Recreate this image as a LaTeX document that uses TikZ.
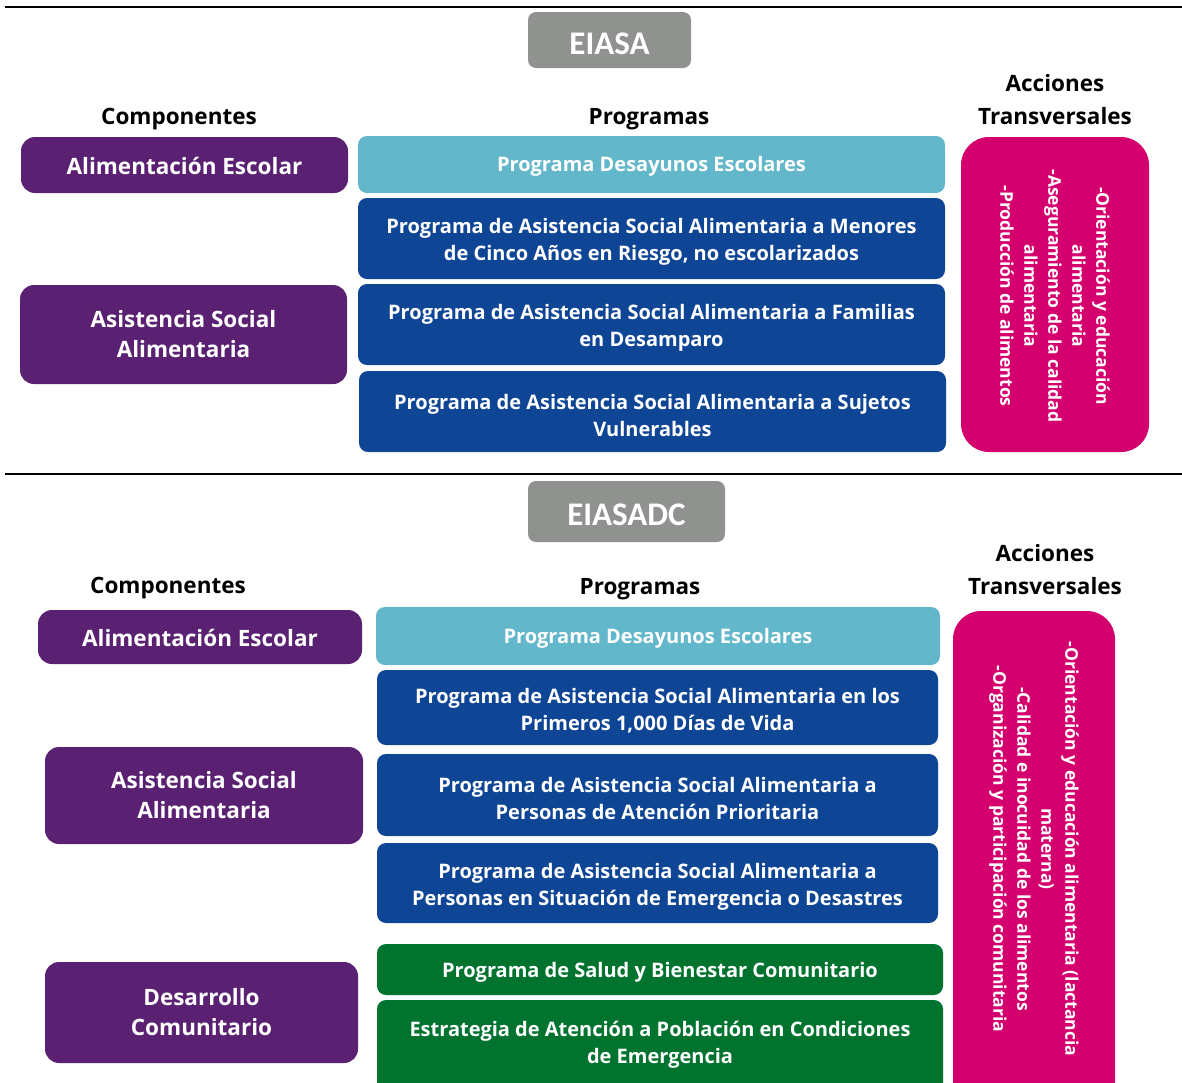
\documentclass[tikz,border=0pt]{standalone}
\usepackage{fontspec}
\setmainfont{Open Sans}
\newfontfamily\calib{Carlito}
\definecolor{gristit}{HTML}{8F928F}
\definecolor{morado}{HTML}{5A2172}
\definecolor{celeste}{HTML}{62B7CB}
\definecolor{azulosc}{HTML}{0E4595}
\definecolor{rosa}{HTML}{D3006E}
\definecolor{verde}{HTML}{00732F}
% box node (name, x1,y1,x2,y2, style, text-shift-down, text)
\newcommand{\bx}[8]{\node[#6, minimum width={#4-#2}, minimum height={#5-#3}] (#1) at ({(#2+#4)/2},{(#3+#5)/2}) {};
  \node[#6, fill=none, draw=none] (#1-t) at ({(#2+#4)/2},{(#3+#5)/2+#7}) {#8};}
\begin{document}
\begin{tikzpicture}[x=1pt,y=-1pt,
  basebox/.style={inner sep=0pt, text=white, font=\bfseries, align=center},
  titbox/.style={basebox, fill=gristit, rounded corners=8pt, font=\calib\bfseries\fontsize{33}{36}\selectfont},
  compbox/.style={basebox, fill=morado, rounded corners=14pt, font=\bfseries\fontsize{22.5}{30}\selectfont},
  progfont/.style={font=\bfseries\fontsize{20}{27}\selectfont},
  progcel/.style={basebox, fill=celeste, rounded corners=9pt, progfont},
  progaz/.style={basebox, fill=azulosc, rounded corners=9pt, progfont},
  progver/.style={basebox, fill=verde, rounded corners=9pt, progfont},
  accbox/.style={basebox, fill=rosa, rounded corners=28pt},
  vtext/.style={text=white, font=\bfseries\fontsize{17.5}{24}\selectfont, align=center, rotate=-90, inner sep=0pt},
  head/.style={font=\bfseries\fontsize{22.5}{33}\selectfont, align=center, inner sep=0pt},
  sepline/.style={line width=2pt}]
\useasboundingbox (0,0) rectangle (1182,1082);
\clip (0,0) rectangle (1182,1082);
% separators
\coordinate (l1a) at (5,7); \coordinate (l1b) at (1182,7);
\coordinate (l2a) at (5,474); \coordinate (l2b) at (1182,474);
\draw[sepline] (l1a) -- (l1b);
\draw[sepline] (l2a) -- (l2b);
% ---------- EIASA ----------
\bx{t1}{528}{12}{691}{68}{titbox}{4}{EIASA}
\node[head] (c1) at (179,119) {Componentes};
\node[head] (p1) at (649,119) {Programas};
\node[head] (a1) at (1055,100) {Acciones\\Transversales};
\bx{ae1}{21}{137}{348}{193}{compbox}{1}{Alimentación Escolar}
\bx{as1}{20}{285}{347}{384}{compbox}{0}{Asistencia Social\\Alimentaria}
\bx{pd1}{358}{136}{945}{193}{progcel}{2}{Programa Desayunos Escolares}
\bx{pm1}{358}{198}{945}{279}{progaz}{3.5}{Programa de Asistencia Social Alimentaria a Menores\\de Cinco Años en Riesgo, no escolarizados}
\bx{pf1}{358}{284}{945}{365}{progaz}{3.5}{Programa de Asistencia Social Alimentaria a Familias\\en Desamparo}
\bx{ps1}{359}{371}{946}{452}{progaz}{3.5}{Programa de Asistencia Social Alimentaria a Sujetos\\Vulnerables}
\bx{ac1}{961}{137}{1149}{452}{accbox}{0}{}
\node[vtext] (v1) at (1055,296) {-Orientación y educación\\alimentaria\\-Aseguramiento de la calidad\\alimentaria\\-Producción de alimentos};
% ---------- EIASADC ----------
\bx{t2}{528}{481}{725}{542}{titbox}{3}{EIASADC}
\node[head] (c2) at (168,588) {Componentes};
\node[head] (p2) at (640,589) {Programas};
\node[head] (a2) at (1045,570) {Acciones\\Transversales};
\bx{ae2}{38}{610}{362}{664}{compbox}{1}{Alimentación Escolar}
\bx{as2}{45}{747}{363}{844}{compbox}{0}{Asistencia Social\\Alimentaria}
\bx{dc2}{45}{962}{358}{1063}{compbox}{0}{Desarrollo\\Comunitario}
\bx{pd2}{376}{607}{940}{665}{progcel}{2}{Programa Desayunos Escolares}
\bx{pp2}{377}{670}{938}{745}{progaz}{3.5}{Programa de Asistencia Social Alimentaria en los\\Primeros 1,000 Días de Vida}
\bx{pa2}{377}{754}{938}{836}{progaz}{3.5}{Programa de Asistencia Social Alimentaria a\\Personas de Atención Prioritaria}
\bx{pe2}{377}{843}{938}{923}{progaz}{3.5}{Programa de Asistencia Social Alimentaria a\\Personas en Situación de Emergencia o Desastres}
\bx{ps2}{377}{944}{943}{995}{progver}{3}{Programa de Salud y Bienestar Comunitario}
\bx{ea2}{377}{1000}{943}{1110}{progver}{-10}{Estrategia de Atención a Población en Condiciones\\de Emergencia}
\bx{ac2}{953}{611}{1115}{1120}{accbox}{0}{}
\node[vtext] (v2) at (1034,849) {-Orientación y educación alimentaria (lactancia\\materna)\\-Calidad e inocuidad de los alimentos\\-Organización y participación comunitaria};
\end{tikzpicture}
\end{document}
